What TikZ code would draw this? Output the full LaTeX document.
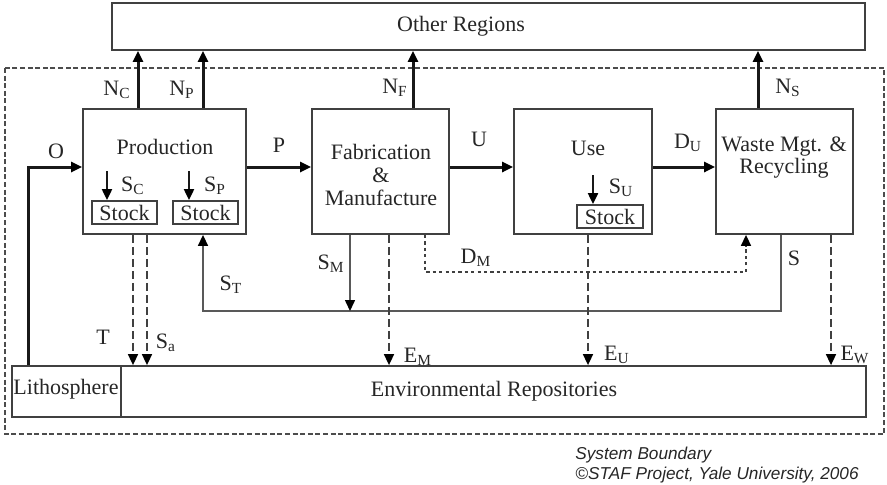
\documentclass[tikz,border=0pt]{standalone}
\usepackage{fontspec}
\setmainfont{Liberation Serif}
\newfontfamily\piefont{Liberation Sans}
\usetikzlibrary{arrows.meta,positioning,fit}
\tikzset{
	caja/.style={draw=black!75, line width=0.9pt, inner sep=0pt},
	texto/.style={text=black!85, inner sep=0pt, align=center},
	flecha/.style={-{Triangle[length=5.5pt,width=5pt,color=black]}},
	grueso/.style={flecha, line width=1.5pt, black!90},
	medio/.style={flecha, line width=1pt, black!90},
	fino/.style={line width=0.75pt, black!65},
	emision/.style={flecha, line width=0.8pt, black!75, dash pattern=on 4pt off 2pt},
	frontera/.style={line width=0.75pt, black!70, dash pattern=on 2.5pt off 1.3pt},
	punteado/.style={flecha, line width=0.8pt, black!75, dash pattern=on 1.6pt off 1.6pt}
}
\begin{document}
\begin{tikzpicture}[x=0.5pt, y=-0.5pt, font=\fontsize{11}{11.5}\selectfont]
	\useasboundingbox (0,0) rectangle (887,484);
	% Frontera del sistema
		\draw[frontera] (5,68) rectangle (884,434);
		\node[texto, anchor=west, font=\piefont\itshape\fontsize{8.6}{10}\selectfont, align=left] (pie) at (575,465) {System Boundary\\\textcopyright STAF Project, Yale University, 2006};

	% Cajas
		\node[caja, fit={(112,3) (865,50)}] (oreg) {};
		\node[texto] (oregtxt) at (461,26) {Other Regions};
		\node[caja, fit={(83,109) (246,234)}] (prod) {};
		\node[texto] (prodtxt) at (165,147) {Production};
		\node[caja, fit={(312,109) (449,234)}] (fab) {};
		\node[texto] (fabtxt) at (381,175) {Fabrication\\\&\\Manufacture};
		\node[caja, fit={(514,109) (652,234)}] (use) {};
		\node[texto] (usetxt) at (588,148) {Use};
		\node[caja, fit={(716,109) (853,234)}] (waste) {};
		\node[texto, font=\fontsize{11}{11}\selectfont] (wastetxt) at (784,158) {Waste Mgt. \&\\Recycling};
		\node[caja, fit={(12,366) (121,417)}] (litho) {};
		\node[texto] (lithotxt) at (66,389) {Lithosphere};
		\node[caja, fit={(121,366) (866,417)}] (env) {};
		\node[texto] (envtxt) at (494,391) {Environmental Repositories};
		% Stocks
			\node[caja, fit={(92,201) (157,224)}] (stockC) {};
			\node[texto] (stockCtxt) at (stockC) {Stock};
			\node[caja, fit={(173,201) (238,224)}] (stockP) {};
			\node[texto] (stockPtxt) at (stockP) {Stock};
			\node[caja, fit={(577,205) (643,228)}] (stockU) {};
			\node[texto] (stockUtxt) at (stockU) {Stock};

	% Coordenadas
		\coordinate (yflujo) at (0,167);
		\coordinate (yret) at (0,311);
		\coordinate (yDM) at (0,272);
		\coordinate (xO) at (28,0);
		\coordinate (xNC) at (138,0);
		\coordinate (xNP) at (203,0);
		\coordinate (xNF) at (413,0);
		\coordinate (xNS) at (758,0);
		\coordinate (xT) at (133,0);
		\coordinate (xSa) at (147,0);
		\coordinate (xST) at (203,0);
		\coordinate (xSM) at (350,0);
		\coordinate (xEM) at (389,0);
		\coordinate (xDM) at (425,0);
		\coordinate (xDMf) at (746,0);
		\coordinate (xEU) at (588,0);
		\coordinate (xS) at (781,0);
		\coordinate (xEW) at (831,0);
		\coordinate (sc) at (107,171);
		\coordinate (sp) at (189,171);
		\coordinate (su) at (593,175);

	% Flujos principales
		\draw[grueso] (xO |- litho.north) |- (prod.west |- yflujo);
		\draw[grueso] (prod.east |- yflujo) -- (fab.west |- yflujo);
		\draw[grueso] (fab.east |- yflujo) -- (use.west |- yflujo);
		\draw[grueso] (use.east |- yflujo) -- (waste.west |- yflujo);
	% Otras regiones
		\draw[grueso] (xNC |- prod.north) -- (xNC |- oreg.south);
		\draw[grueso] (xNP |- prod.north) -- (xNP |- oreg.south);
		\draw[grueso] (xNF |- fab.north) -- (xNF |- oreg.south);
		\draw[grueso] (xNS |- waste.north) -- (xNS |- oreg.south);
	% Stocks
		\draw[medio] (sc) -- (sc |- stockC.north);
		\draw[medio] (sp) -- (sp |- stockP.north);
		\draw[medio] (su) -- (su |- stockU.north);
	% Retorno
		\draw[fino, flecha] (xS |- waste.south) |- (xST |- yret) -- (xST |- prod.south);
		\draw[fino, flecha] (xSM |- fab.south) -- (xSM |- yret);
		\draw[punteado] (xDM |- fab.south) |- (xDMf |- yDM) -- (xDMf |- waste.south);
	% Emisiones
		\draw[emision] (xT |- prod.south) -- (xT |- env.north);
		\draw[emision] (xSa |- prod.south) -- (xSa |- env.north);
		\draw[emision] (xEM |- fab.south) -- (xEM |- env.north);
		\draw[emision] (xEU |- use.south) -- (xEU |- env.north);
		\draw[emision] (xEW |- waste.south) -- (xEW |- env.north);

	% Etiquetas
		\node[texto] (lO) at (56,151) {O};
		\node[texto] (lNC) at (117,90) {N\textsubscript{C}};
		\node[texto] (lNP) at (182,90) {N\textsubscript{P}};
		\node[texto] (lNF) at (395,88) {N\textsubscript{F}};
		\node[texto] (lNS) at (788,88) {N\textsubscript{S}};
		\node[texto] (lSC) at (133,186) {S\textsubscript{C}};
		\node[texto] (lSP) at (215,186) {S\textsubscript{P}};
		\node[texto] (lSU) at (621,188) {S\textsubscript{U}};
		\node[texto] (lP) at (279,145) {P};
		\node[texto] (lU) at (479,139) {U};
		\node[texto] (lDU) at (688,143) {D\textsubscript{U}};
		\node[texto] (lT) at (103,337) {T};
		\node[texto] (lSa) at (166,343) {S\textsubscript{a}};
		\node[texto] (lST) at (231,285) {S\textsubscript{T}};
		\node[texto] (lSM) at (331,264) {S\textsubscript{M}};
		\node[texto] (lEM) at (418,357) {E\textsubscript{M}};
		\node[texto] (lDM) at (476,258) {D\textsubscript{M}};
		\node[texto] (lS) at (794,258) {S};
		\node[texto] (lEU) at (617,355) {E\textsubscript{U}};
		\node[texto] (lEW) at (855,355) {E\textsubscript{W}};
\end{tikzpicture}
\end{document}
